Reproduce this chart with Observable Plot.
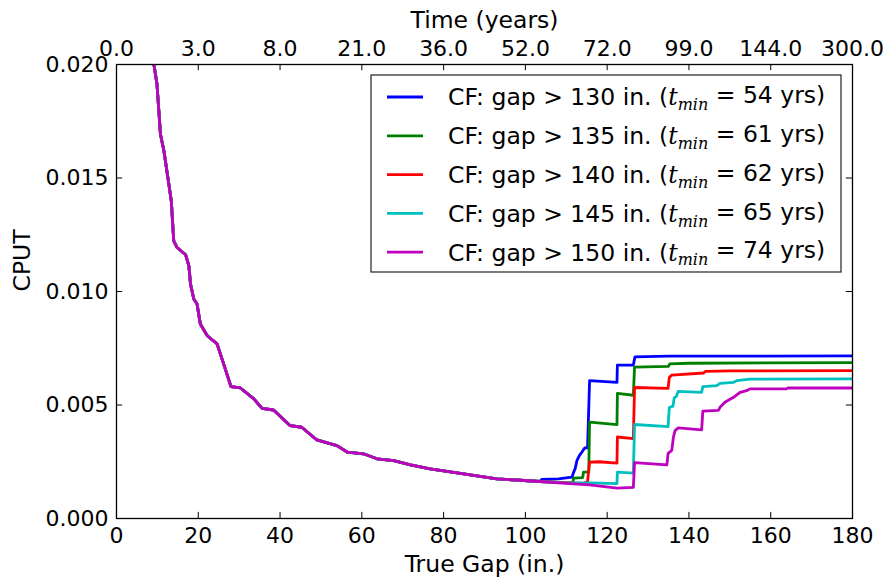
<!DOCTYPE html>
<html>
<head>
<meta charset="utf-8">
<script src="https://cdn.jsdelivr.net/npm/d3@7"></script>
<script src="https://cdn.jsdelivr.net/npm/@observablehq/plot@0.6"></script>
<style>
  html, body { margin: 0; padding: 0; background: #fff; }
  #chart svg { display: block; }
</style>
</head>
<body>
<div id="chart"></div>
<script>
// ---- data ----
const xTicks = [0, 20, 40, 60, 80, 100, 120, 140, 160, 180];
const xTickLabels = ["0", "20", "40", "60", "80", "100", "120", "140", "160", "180"];
const topTickLabels = ["0.0", "3.0", "8.0", "21.0", "36.0", "52.0", "72.0", "99.0", "144.0", "300.0"];
const yTicks = [0, 0.005, 0.010, 0.015, 0.020];
const yTickLabels = ["0.000", "0.005", "0.010", "0.015", "0.020"];

const seriesNames = ["130", "135", "140", "145", "150"];
const tminYears = [54, 61, 62, 65, 74];
const seriesColors = ["#0000ff", "#008000", "#ff0000", "#00bfbf", "#bf00bf"];

// shared portion of all curves
const commonGap = [8.8, 9.1, 9.9, 10.75, 11.6, 12.8, 13.4, 14.0, 14.8, 16.9, 17.7, 18.1, 18.9, 19.7, 20.5, 22.2, 24.6, 26.2, 28.0, 30.3, 33.6, 35.6, 38.4, 42.5, 45.3, 49.0, 53.9, 56.5, 60.4, 63.7, 67.8, 71.9, 76.7, 84.9, 93.0, 103.6];
const commonCput = [0.0207, 0.02007, 0.01913, 0.01693, 0.01619, 0.01473, 0.01399, 0.01223, 0.01194, 0.01162, 0.01113, 0.01033, 0.00967, 0.00945, 0.00857, 0.00805, 0.00769, 0.00681, 0.00581, 0.00575, 0.00527, 0.00485, 0.00478, 0.00409, 0.00402, 0.00346, 0.00321, 0.00292, 0.00285, 0.00263, 0.00255, 0.00236, 0.00219, 0.00197, 0.00175, 0.00163];

const gap130 = [104.0, 108.1, 111.4, 111.8, 112.2, 112.6, 113.2, 113.8, 114.5, 115.2, 115.7, 122.4, 122.5, 126.4, 126.8, 134.9, 180];
const cput130 = [0.00172, 0.00175, 0.00182, 0.00204, 0.00221, 0.00255, 0.00277, 0.00292, 0.00311, 0.00311, 0.00607, 0.0060, 0.00676, 0.00676, 0.00712, 0.00715, 0.00716];

const gap135 = [108, 111.6, 111.8, 114.0, 114.2, 115.5, 115.7, 122.4, 122.5, 126.4, 126.7, 135.0, 135.3, 140, 180];
const cput135 = [0.00159, 0.00157, 0.00178, 0.0018, 0.00204, 0.00205, 0.00425, 0.00414, 0.00551, 0.00543, 0.00667, 0.0067, 0.00681, 0.00684, 0.00687];

const gap140 = [108, 114.2, 115.2, 115.7, 118, 122.4, 122.5, 126.4, 126.7, 134.9, 135.2, 135.8, 143.6, 144.0, 150, 180];
const cput140 = [0.00159, 0.00155, 0.00162, 0.00248, 0.0025, 0.00244, 0.00359, 0.00352, 0.00577, 0.00573, 0.00621, 0.00632, 0.00641, 0.00648, 0.0065, 0.00651];

const gap145 = [108, 115.7, 122.4, 122.5, 126.4, 126.7, 134.9, 135.2, 136.1, 136.4, 136.9, 137.4, 143.1, 143.4, 146.8, 147.6, 150.9, 151.7, 154.9, 180];
const cput145 = [0.00158, 0.00157, 0.00154, 0.00204, 0.0020, 0.00414, 0.00405, 0.00489, 0.00495, 0.00532, 0.00537, 0.0056, 0.00556, 0.00581, 0.00585, 0.00595, 0.0060, 0.00607, 0.00614, 0.00615];

const gap150 = [108, 115.7, 122.4, 126.4, 126.7, 134.6, 134.9, 135.8, 136.2, 136.6, 137.4, 143.1, 143.4, 147.2, 147.6, 148.8, 150.9, 152.5, 154.1, 154.9, 163.8, 164.2, 180];
const cput150 = [0.00157, 0.00148, 0.00134, 0.00137, 0.00246, 0.00236, 0.00287, 0.0030, 0.00358, 0.00387, 0.00399, 0.0039, 0.00473, 0.00476, 0.0049, 0.00512, 0.00534, 0.00556, 0.00563, 0.00571, 0.00571, 0.00575, 0.00575];

// ---- build table ----
const tails = [[gap130, cput130], [gap135, cput135], [gap140, cput140], [gap145, cput145], [gap150, cput150]];
const rows = [];
tails.forEach(([g, c], i) => {
  commonGap.forEach((x, j) => rows.push({series: seriesNames[i], gap: x, cput: commonCput[j]}));
  g.forEach((x, j) => rows.push({series: seriesNames[i], gap: x, cput: c[j]}));
});

const FONT = "DejaVu Sans";
const TICK_FS = 22;
const TITLE_FS = 23.5;

// tick lengths (inward, ~6px) expressed in scale units
const xMin = 0, xMax = 180, yMin = 0, yMax = 0.02;
const tickLenX = 1.5;      // ≈6px horizontally
const tickLenY = 0.00027;  // ≈6px vertically

const chart = Plot.plot({
  width: 888,
  height: 579,
  marginLeft: 116,
  marginRight: 36,
  marginTop: 64,
  marginBottom: 61,
  style: {fontFamily: FONT, fontSize: TICK_FS + "px", color: "#000", background: "#fff"},
  x: {domain: [xMin, xMax]},
  y: {domain: [yMin, yMax]},
  color: {domain: seriesNames, range: seriesColors},
  marks: [
    Plot.line(rows, {x: "gap", y: "cput", z: "series", stroke: "series", strokeWidth: 2.8, clip: true}),
    // inward ticks on all four sides
    Plot.ruleX(xTicks, {x: (d) => d, y1: yMin, y2: yMin + tickLenY, stroke: "#000", strokeWidth: 1}),
    Plot.ruleX(xTicks, {x: (d) => d, y1: yMax, y2: yMax - tickLenY, stroke: "#000", strokeWidth: 1}),
    Plot.ruleY(yTicks, {y: (d) => d, x1: xMin, x2: xMin + tickLenX, stroke: "#000", strokeWidth: 1}),
    Plot.ruleY(yTicks, {y: (d) => d, x1: xMax, x2: xMax - tickLenX, stroke: "#000", strokeWidth: 1}),
    Plot.frame({stroke: "#000", strokeWidth: 1.3}),
    Plot.axisX({anchor: "bottom", ticks: xTicks, tickFormat: (d) => xTickLabels[xTicks.indexOf(d)], tickSize: 0, tickPadding: 9, label: null, fontSize: TICK_FS}),
    Plot.axisX({anchor: "top", ticks: xTicks, tickFormat: (d) => topTickLabels[xTicks.indexOf(d)], tickSize: 0, tickPadding: 9, label: null, fontSize: TICK_FS}),
    Plot.axisY({anchor: "left", ticks: yTicks, tickFormat: (d) => yTickLabels[yTicks.indexOf(d)], tickSize: 0, tickPadding: 8, label: null, fontSize: TICK_FS}),
    Plot.text(["True Gap (in.)"], {frameAnchor: "bottom", dy: 46, lineAnchor: "middle", fontSize: TITLE_FS, fill: "#000"}),
    Plot.text(["Time (years)"], {frameAnchor: "top", dy: -44, lineAnchor: "middle", fontSize: TITLE_FS, fill: "#000"}),
    Plot.text(["CPUT"], {frameAnchor: "left", dx: -94, rotate: -90, fontSize: TITLE_FS, fill: "#000"})
  ]
});

// ---- legend ----
const svg = d3.select(chart);
const lg = svg.append("g").attr("font-family", FONT).attr("font-size", 23.5).attr("text-anchor", "start");
lg.append("rect").attr("x", 371).attr("y", 75).attr("width", 470).attr("height", 197)
  .attr("fill", "#fff").attr("stroke", "#222").attr("stroke-width", 1.2);
seriesNames.forEach((s, i) => {
  const cy = 97 + i * 38.8;
  lg.append("line").attr("x1", 387).attr("x2", 423).attr("y1", cy).attr("y2", cy)
    .attr("stroke", seriesColors[i]).attr("stroke-width", 2.8);
  const t = lg.append("text").attr("x", 448).attr("y", cy).attr("dy", "0.36em").attr("fill", "#000").attr("text-anchor", "start");
  t.append("tspan").text(`CF: gap > ${s} in. (`);
  t.append("tspan").attr("font-family", "DejaVu Serif").attr("font-style", "italic").text("t");
  t.append("tspan").attr("font-family", "DejaVu Serif").attr("font-style", "italic").attr("font-size", 16).attr("dy", "0.3em").text("min");
  t.append("tspan").attr("dy", "-0.3em").text(` = ${tminYears[i]} yrs)`);
});

document.getElementById("chart").appendChild(chart);
</script>
</body>
</html>
